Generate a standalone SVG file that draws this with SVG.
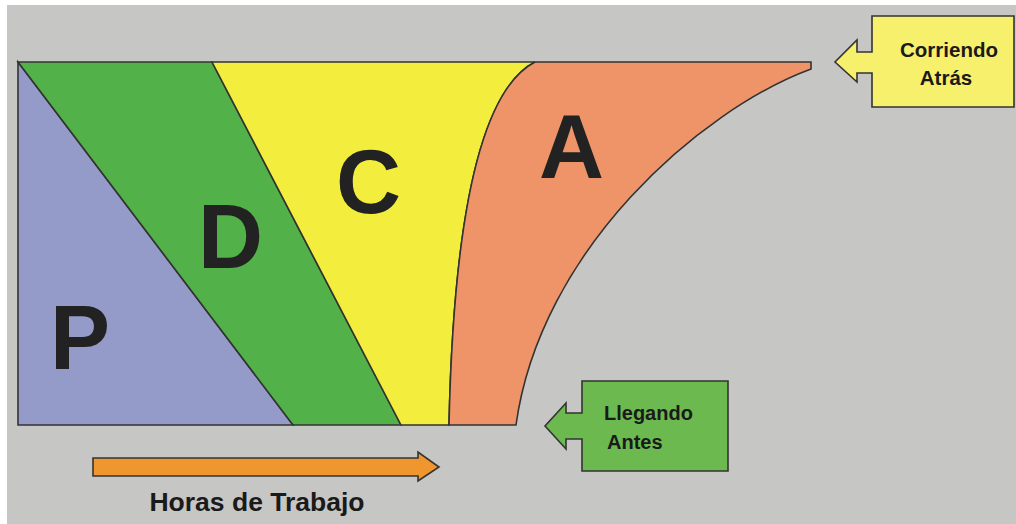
<svg xmlns="http://www.w3.org/2000/svg" width="1016" height="524" viewBox="0 0 1016 524">
<style>
.edge{stroke:#333;stroke-width:1.6;stroke-linejoin:miter}
.big{font-family:"Liberation Sans",Arial,sans-serif;font-weight:bold;font-size:90px;fill:#222}
.lbl{font-family:"Liberation Sans",Arial,sans-serif;font-weight:bold;fill:#1a1a1a}
</style>
<rect x="0" y="0" width="1016" height="524" fill="#ffffff"/>
<rect x="7" y="5" width="1009" height="519" fill="#c6c6c4"/>
<g id="P">
<polygon class="edge" points="18,62 293,425 18,425" fill="#959bc9"/>
<text class="big" x="50" y="369">P</text>
</g>
<g id="D">
<polygon class="edge" points="18,62 212,62 401,425 293,425" fill="#52b148"/>
<text class="big" x="198" y="268">D</text>
</g>
<g id="C">
<path class="edge" d="M212,62 H535 C500,80 455,150 449,425 H401 Z" fill="#f3ee3e"/>
<text class="big" x="336" y="213">C</text>
</g>
<g id="A">
<path class="edge" d="M535,62 H811 V69 C700,110 540,250 516,425 H449 C455,150 500,80 535,62 Z" fill="#ee9468"/>
<text class="big" x="539" y="178">A</text>
</g>
<g id="corriendo-atras">
<path class="edge" d="M872,16 H1014 V107 H872 V73 H857 V82 L835,62 L857,40 V52 H872 Z" fill="#f7f06c"/>
<text class="lbl" font-size="20.5" text-anchor="middle" x="949" y="57">Corriendo</text>
<text class="lbl" font-size="20.5" text-anchor="middle" x="946" y="85">Atrás</text>
</g>
<g id="llegando-antes">
<path class="edge" d="M582,381 H728 V471 H582 V439 H566 V449 L545,426 L566,403 V413 H582 Z" fill="#6bb94f"/>
<text class="lbl" font-size="20" x="604" y="420">Llegando</text>
<text class="lbl" font-size="20" x="607" y="449">Antes</text>
</g>
<g id="connectors">
<path class="edge" d="M93,458 H418 V452 L439,467 L418,481 V476 H93 Z" fill="#f0962f"/>
</g>
<g id="horas-label">
<text class="lbl" font-size="26.5" text-anchor="middle" x="257" y="511">Horas de Trabajo</text>
</g>
</svg>
